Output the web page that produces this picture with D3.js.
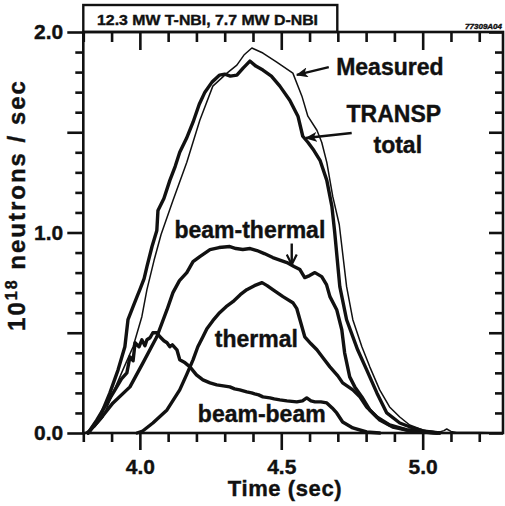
<!DOCTYPE html>
<html lang="en">
<head>
<meta charset="utf-8">
<style>
  body { margin: 0; background: #fff; }
  svg text { font-family: "Liberation Sans", Arial, Helvetica, sans-serif; font-weight: bold; fill: #111;
             stroke: #111; stroke-width: 0.4px; }
</style>
</head>
<body>
<script src="https://d3js.org/d3.v7.min.js"></script>
<script>
// neutron rate (10^18 n/s) vs time (sec)
var measured = [[3.806,0],[3.840,0.03],[3.870,0.08],[3.905,0.20],[3.940,0.315],[3.976,0.43],[4.007,0.58],
  [4.025,0.715],[4.050,0.86],[4.075,0.99],[4.117,1.16],[4.166,1.35],[4.212,1.56],[4.258,1.73],[4.308,1.795],
  [4.343,1.835],[4.368,1.885],[4.396,1.92],[4.435,1.895],[4.484,1.85],[4.541,1.795],[4.573,1.68],[4.594,1.58],
  [4.626,1.51],[4.643,1.45],[4.661,1.35],[4.682,1.18],[4.705,1.04],[4.731,0.73],[4.753,0.565],[4.785,0.43],
  [4.813,0.33],[4.848,0.215],[4.883,0.13],[4.919,0.08],[4.954,0.04],[5.00,0.015],[5.06,0.005],[5.075,0.012],
  [5.085,0.02],[5.10,0.008],[5.12,0.003],[5.20,0.002],[5.28,0]];

var total = [[3.817,0],[3.859,0.08],[3.894,0.20],[3.923,0.315],[3.947,0.43],[3.958,0.565],[3.976,0.63],
  [3.990,0.68],[4.000,0.715],[4.015,0.77],[4.025,0.83],[4.043,0.93],[4.060,1.01],[4.064,1.11],[4.085,1.17],
  [4.106,1.26],[4.125,1.33],[4.141,1.40],[4.165,1.47],[4.188,1.55],[4.210,1.64],[4.230,1.70],[4.255,1.75],
  [4.282,1.785],[4.300,1.79],[4.320,1.78],[4.343,1.785],[4.365,1.82],[4.389,1.855],[4.410,1.83],[4.435,1.81],
  [4.465,1.78],[4.495,1.73],[4.530,1.66],[4.559,1.58],[4.576,1.48],[4.594,1.45],[4.615,1.41],[4.637,1.36],
  [4.661,1.26],[4.679,1.13],[4.689,1.00],[4.707,0.73],[4.731,0.565],[4.770,0.415],[4.802,0.315],[4.838,0.20],
  [4.873,0.10],[4.919,0.05],[4.965,0.025],[5.014,0.005],[5.05,0]];

var beamThermal = [[3.817,0],[3.860,0.07],[3.905,0.15],[3.965,0.23],[4.011,0.35],[4.060,0.48],[4.096,0.615],
  [4.117,0.70],[4.140,0.76],[4.166,0.80],[4.188,0.855],[4.212,0.88],[4.248,0.915],[4.280,0.925],[4.318,0.93],
  [4.340,0.92],[4.364,0.915],[4.390,0.92],[4.414,0.91],[4.440,0.895],[4.470,0.875],[4.500,0.86],[4.520,0.85],
  [4.545,0.83],[4.566,0.815],[4.583,0.775],[4.600,0.785],[4.619,0.80],[4.643,0.78],[4.660,0.74],[4.672,0.68],
  [4.696,0.615],[4.714,0.515],[4.724,0.40],[4.742,0.28],[4.760,0.23],[4.785,0.18],[4.813,0.115],[4.848,0.065],
  [4.894,0.03],[4.944,0.015],[5.000,0.005],[5.06,0]];

var thermal = [[3.990,0],[4.010,0.01],[4.046,0.05],[4.096,0.115],[4.141,0.215],[4.165,0.29],[4.188,0.365],
  [4.205,0.43],[4.223,0.48],[4.237,0.52],[4.258,0.56],[4.282,0.60],[4.305,0.63],[4.329,0.655],[4.355,0.69],
  [4.378,0.715],[4.405,0.735],[4.432,0.75],[4.450,0.735],[4.470,0.715],[4.506,0.68],[4.541,0.65],[4.555,0.62],
  [4.566,0.565],[4.583,0.48],[4.605,0.445],[4.626,0.415],[4.650,0.37],[4.672,0.33],[4.700,0.285],[4.717,0.25],
  [4.753,0.215],[4.778,0.18],[4.802,0.13],[4.838,0.08],[4.883,0.04],[4.944,0.015],[5.000,0.005],[5.06,0]];

var beamBeam = [[3.817,0],[3.848,0.065],[3.880,0.14],[3.910,0.21],[3.935,0.27],[3.954,0.30],[3.965,0.38],
  [3.976,0.36],[3.983,0.45],[3.997,0.43],[4.007,0.465],[4.018,0.435],[4.025,0.465],[4.036,0.475],[4.046,0.50],
  [4.060,0.50],[4.071,0.48],[4.085,0.46],[4.096,0.45],[4.106,0.43],[4.115,0.44],[4.131,0.415],[4.141,0.365],
  [4.160,0.35],[4.177,0.33],[4.200,0.29],[4.223,0.265],[4.248,0.25],[4.272,0.24],[4.295,0.235],[4.318,0.23],
  [4.335,0.22],[4.353,0.215],[4.378,0.205],[4.395,0.20],[4.406,0.195],[4.420,0.19],[4.435,0.18],[4.460,0.175],
  [4.475,0.17],[4.495,0.165],[4.520,0.16],[4.555,0.155],[4.575,0.16],[4.590,0.175],[4.605,0.16],[4.619,0.155],
  [4.640,0.155],[4.661,0.15],[4.680,0.125],[4.696,0.10],[4.717,0.055],[4.753,0.025],[4.802,0.005],[4.848,0]];

var xTicks = d3.range(38, 53).map(function (i) { return i / 10; });
var yTicks = d3.range(0, 21).map(function (i) { return i / 10; });

// labels in data units: text, time, rate
var labels = [["Measured",4.884,1.786],["TRANSP",4.898,1.551],["total",4.912,1.397],
  ["beam-thermal",4.389,0.973],["thermal",4.412,0.429],["beam-beam",4.431,0.056]];
// arrows: from (t,v) to (t,v), filled head or open
var arrows = [[4.668,1.825,4.555,1.786,true],[4.749,1.496,4.587,1.471,true],[4.537,0.945,4.537,0.84,false]];

var width = 505, height = 506;
var x = d3.scaleLinear().domain([3.8, 5.284]).range([83.3, 503]);
var y = d3.scaleLinear().domain([0, 2]).range([433, 32]);

var svg = d3.select("body").append("svg").attr("width", width).attr("height", height);

var defs = svg.append("defs");
defs.append("marker").attr("id", "headFill").attr("viewBox", "0 0 12 10")
  .attr("refX", 11).attr("refY", 5).attr("markerWidth", 12).attr("markerHeight", 10)
  .attr("markerUnits", "userSpaceOnUse").attr("orient", "auto")
  .append("path").attr("d", "M0,0 L12,5 L0,10 L3,5 Z").attr("fill", "#111");
defs.append("marker").attr("id", "headOpen").attr("viewBox", "0 0 12 12")
  .attr("refX", 11).attr("refY", 6).attr("markerWidth", 12).attr("markerHeight", 12)
  .attr("markerUnits", "userSpaceOnUse").attr("orient", "auto")
  .append("path").attr("d", "M1,1 L11,6 L1,11").attr("fill", "none")
  .attr("stroke", "#111").attr("stroke-width", 2.2);

function isMajor(d) { return Math.round(d * 10) % 5 === 0; }
function isLabel(d) { return Math.round(d * 10) % 10 === 0; }

// axes
var gl = svg.append("g").attr("transform", "translate(" + x.range()[0] + ",0)")
  .call(d3.axisLeft(y).tickValues(yTicks).tickSizeInner(16).tickSizeOuter(0).tickPadding(4)
    .tickFormat(function (d) { return isLabel(d) ? d.toFixed(1) : ""; }));
gl.selectAll(".tick line").attr("x2", function (d) { return isMajor(d) ? -16 : -8; });

var gr = svg.append("g").attr("transform", "translate(" + x.range()[1] + ",0)")
  .call(d3.axisRight(y).tickValues(yTicks).tickSizeOuter(0).tickFormat(""));
gr.selectAll(".tick line").attr("x2", function (d) { return isMajor(d) ? -14 : -8; });

var gb = svg.append("g").attr("transform", "translate(0," + y.range()[0] + ")")
  .call(d3.axisBottom(x).tickValues(xTicks).tickSizeInner(17).tickSizeOuter(0).tickPadding(9)
    .tickFormat(function (d) { return isMajor(d) ? d.toFixed(1) : ""; }));
gb.selectAll(".tick line").attr("y2", function (d) { return isMajor(d) ? 17 : 9; });

var gt = svg.append("g").attr("transform", "translate(0," + y.range()[1] + ")")
  .call(d3.axisTop(x).tickValues(xTicks).tickSizeOuter(0).tickFormat(""));
gt.selectAll(".tick line").attr("y2", function (d) { return isMajor(d) ? 18 : 10; });

svg.selectAll(".domain").remove();
svg.selectAll(".tick line").attr("stroke", "#111").attr("stroke-width", 2.6);
svg.selectAll(".tick text").attr("font-size", 21).attr("fill", "#111");

// frame
svg.append("rect").attr("x", x.range()[0]).attr("y", y.range()[1])
  .attr("width", x.range()[1] - x.range()[0]).attr("height", y.range()[0] - y.range()[1])
  .attr("fill", "none").attr("stroke", "#111").attr("stroke-width", 2.6);

// title box
svg.append("rect").attr("x", x.range()[0]).attr("y", 5).attr("width", 254).attr("height", 27)
  .attr("fill", "none").attr("stroke", "#111").attr("stroke-width", 2.4);
svg.append("text").attr("x", 97).attr("y", 25).attr("font-size", 15)
  .attr("textLength", 221).attr("lengthAdjust", "spacingAndGlyphs")
  .text("12.3 MW T-NBI, 7.7 MW D-NBI");
svg.append("text").attr("x", 502).attr("y", 29).attr("font-size", 8).attr("font-style", "italic")
  .attr("stroke-width", 0).attr("text-anchor", "end").text("77309A04");

// axis titles
svg.append("text").attr("x", 285).attr("y", 496).attr("text-anchor", "middle")
  .attr("font-size", 22).attr("letter-spacing", 0.6).text("Time (sec)");
var yl = svg.append("text").attr("transform", "translate(25,205) rotate(-90)")
  .attr("text-anchor", "middle").attr("font-size", 24).attr("letter-spacing", 2);
yl.append("tspan").text("10");
yl.append("tspan").attr("font-size", 16).attr("dy", -8).text("18");
yl.append("tspan").attr("dy", 8).text(" neutrons / sec");

// curves
var line = d3.line().x(function (d) { return x(d[0]); }).y(function (d) { return y(d[1]); });
var series = [[beamBeam, 3.4], [thermal, 3.4], [beamThermal, 3.4], [total, 3.4], [measured, 1.5]];
svg.append("g").selectAll("path").data(series).join("path")
  .attr("d", function (d) { return line(d[0]); })
  .attr("fill", "none").attr("stroke", "#111")
  .attr("stroke-width", function (d) { return d[1]; })
  .attr("stroke-linejoin", "round").attr("stroke-linecap", "round");

// labels and arrows
svg.append("g").selectAll("text").data(labels).join("text")
  .attr("x", function (d) { return x(d[1]); }).attr("y", function (d) { return y(d[2]); })
  .attr("text-anchor", "middle").attr("font-size", 23).text(function (d) { return d[0]; });

svg.append("g").selectAll("line").data(arrows).join("line")
  .attr("x1", function (d) { return x(d[0]); }).attr("y1", function (d) { return y(d[1]); })
  .attr("x2", function (d) { return x(d[2]); }).attr("y2", function (d) { return y(d[3]); })
  .attr("stroke", "#111").attr("stroke-width", 2.4)
  .attr("marker-end", function (d) { return d[4] ? "url(#headFill)" : "url(#headOpen)"; });
</script>
</body>
</html>
